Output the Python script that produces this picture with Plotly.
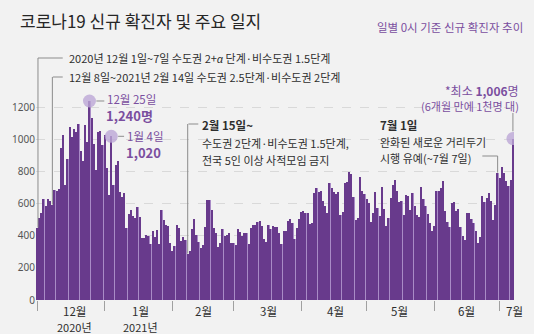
import plotly.graph_objects as go

# ---- data (0시 기준 daily new cases, 2020-12-01 .. 2021-07-07) ----
dec_2020 = [451, 511, 540, 629, 583, 631, 615, 594, 686, 682, 689, 950, 1030, 718, 880, 1078,
            1014, 1064, 1047, 1097, 926, 869, 1090, 985, 1240, 1132, 970, 808, 1045, 1050, 967]
jan_2021 = [1029, 824, 657, 1020, 715, 840, 869, 674, 641, 665, 451, 537, 562, 524, 513, 580,
            520, 389, 386, 404, 400, 346, 431, 392, 437, 349, 559, 497, 469, 458, 355]
feb_2021 = [305, 336, 467, 451, 370, 393, 372, 289, 303, 444, 504, 403, 362, 326, 344, 457,
            621, 621, 561, 448, 416, 332, 357, 440, 396, 406, 415, 356]
mar_2021 = [355, 344, 444, 424, 398, 418, 416, 346, 446, 470, 465, 488, 490, 459, 382, 363,
            469, 445, 463, 452, 456, 415, 346, 428, 430, 494, 505, 482, 382, 447, 506]
apr_2021 = [551, 557, 543, 543, 473, 477, 668, 700, 671, 677, 614, 587, 542, 731, 698, 673,
            658, 672, 532, 549, 731, 735, 797, 785, 644, 500, 512, 769, 680, 661]
may_2021 = [627, 606, 488, 541, 676, 574, 525, 701, 564, 463, 511, 635, 715, 747, 681, 610,
            619, 528, 654, 646, 561, 666, 585, 530, 516, 707, 629, 587, 533, 480, 430]
jun_2021 = [459, 677, 681, 695, 744, 556, 485, 454, 602, 611, 556, 565, 452, 399, 373, 545,
            540, 507, 482, 429, 357, 395, 645, 610, 634, 668, 614, 501, 595, 794]
jul_2021 = [762, 826, 794, 743, 711, 746, 1006]

months = [dec_2020, jan_2021, feb_2021, mar_2021, apr_2021, may_2021, jun_2021, jul_2021]
month_labels = ["12월", "1월", "2월", "3월", "4월", "5월", "6월", "7월"]
year_labels = {"12월": "2020년", "1월": "2021년"}
y_ticks = [0, 200, 400, 600, 800, 1000, 1200]

values = [v for m in months for v in m]
idx = list(range(len(values)))
month_starts = []
s = 0
for m in months:
    month_starts.append(s)
    s += len(m)

i_dec25 = 24
i_jan4 = 34
i_last = len(values) - 1
i_dec1 = 0
i_dec8 = 7
i_feb_low = 69
i_jun30 = 211

# ---- geometry ----
W, H = 534, 334
L, R, T, B = 31, 20, 40, 34
PW = W - L - R
PH = H - T - B
N = len(values)
YMAX = 1620
BOT = T + PH


def dx(px):
    return (px - L) / PW * N - 0.5


def dy(py):
    return (BOT - py) / PH * YMAX


def pxp(px):
    return (px - L) / PW


def pyp(py):
    return (BOT - py) / PH


DARK = "#2e2e2e"
PURPLE = "#7a4e9f"
LINE = "#8c8c8c"
FONT = "Noto Sans CJK KR"

fig = go.Figure()
fig.add_trace(go.Bar(x=idx, y=values, width=1.0, marker=dict(color="#a98bc6", line=dict(width=0)),
                     hoverinfo="skip"))
fig.add_trace(go.Bar(x=idx, y=values, width=0.6, marker=dict(color="#683a8c", line=dict(width=0))))
fig.add_trace(go.Scatter(x=[i_dec25, i_jan4, i_last],
                         y=[values[i_dec25], values[i_jan4], values[i_last]],
                         mode="markers", marker=dict(size=13, color="rgba(188,166,214,0.8)"),
                         hoverinfo="skip"))

shapes = []


def seg(x0, y0, x1, y1):
    shapes.append(dict(type="line", xref="x", yref="y", x0=x0, y0=y0, x1=x1, y1=y1,
                       line=dict(color=LINE, width=1), layer="above"))


# annotation 1 leader
seg(dx(33), dy(58), dx(58), dy(58))
seg(dx(33), dy(58), dx(33), values[i_dec1])
# annotation 2 leader
seg(dx(48), dy(77), dx(58), dy(77))
seg(i_dec8, dy(77), i_dec8, values[i_dec8])
# Dec 25 / Jan 4 leaders
seg(dx(92), values[i_dec25], dx(100), values[i_dec25])
seg(dx(114), values[i_jan4], dx(120), values[i_jan4])
# Feb 15 leader
seg(dx(185), dy(124), dx(195), dy(124))
seg(i_feb_low, dy(124), i_feb_low, values[i_feb_low])
# last value leader
seg(i_last, dy(113), i_last, values[i_last] + 45)
# July 1 leader
seg(dx(482), dy(156), i_jun30, dy(156))
seg(i_jun30, dy(156), i_jun30, values[i_jun30])

ann = []


def txt(px, py, text, size=11, color=DARK, anchor="left", bold=False):
    t = f"<b>{text}</b>" if bold else text
    ann.append(dict(x=pxp(px), y=pyp(py), xref="paper", yref="paper", text=t, showarrow=False,
                    xanchor=anchor, yanchor="middle",
                    font=dict(family=FONT, size=size, color=color)))


txt(13, 20, "코로나19 신규 확진자 및 주요 일지", 17, "#262626")
txt(525, 27, "일별 0시 기준 신규 확진자 추이", 11.5, PURPLE, anchor="right")

txt(62, 58, "2020년 12월 1일~7일 수도권 2+<span style=\"font-family:Noto Sans\"><i>α</i></span> 단계·비수도권 1.5단계", 11)
txt(62, 77, "12월 8일~2021년 2월 14일 수도권 2.5단계·비수도권 2단계", 11)
txt(101, 99, "12월 25일", 11.5, PURPLE)
txt(100, 116, "1,240명", 13, PURPLE, bold=True)
txt(121, 136, "1월 4일", 11.5, PURPLE)
txt(120, 152, "1,020", 13, PURPLE, bold=True)
txt(197, 125, "2월 15일~", 11.5, DARK, bold=True)
txt(197, 143, "수도권 2단계·비수도권 1.5단계,", 11)
txt(197, 160, "전국 5인 이상 사적모임 금지", 11)
txt(521, 90, "*최소 <b>1,006</b>명", 12, PURPLE, anchor="right")
txt(521, 106, "(6개월 만에 1천명 대)", 11, PURPLE, anchor="right")
txt(377, 125, "7월 1일", 11.5, DARK, bold=True)
txt(377, 142, "완화된 새로운 거리두기", 11)
txt(377, 158, "시행 유예(~7월 7일)", 11)

label_px = [70, 137, 200, 266, 334, 398, 466, 515]
for lab, px in zip(month_labels, label_px):
    txt(px, 311, lab, 11.5, DARK, anchor="center")
    if lab in year_labels:
        txt(px, 327, year_labels[lab], 11, DARK, anchor="center")

fig.update_layout(
    width=W, height=H, margin=dict(l=L, r=R, t=T, b=B),
    paper_bgcolor="#f2f2f2", plot_bgcolor="#f2f2f2",
    barmode="overlay", bargap=0, showlegend=False,
    shapes=shapes, annotations=ann,
    xaxis=dict(range=[-0.5, N - 0.5], tickvals=month_starts, ticks="outside", ticklen=10,
               tickcolor="#a0a0a0", showticklabels=False, showgrid=False, zeroline=False,
               showline=False, fixedrange=True),
    yaxis=dict(range=[0, YMAX], tickvals=y_ticks, showgrid=True, gridcolor="#d9d9d9",
               griddash="dash", gridwidth=1, zeroline=False, showline=False,
               tickfont=dict(family="Noto Sans", size=10, color="#555555"), ticks="",
               fixedrange=True),
    font=dict(family=FONT),
)

fig.write_html("out.html")
